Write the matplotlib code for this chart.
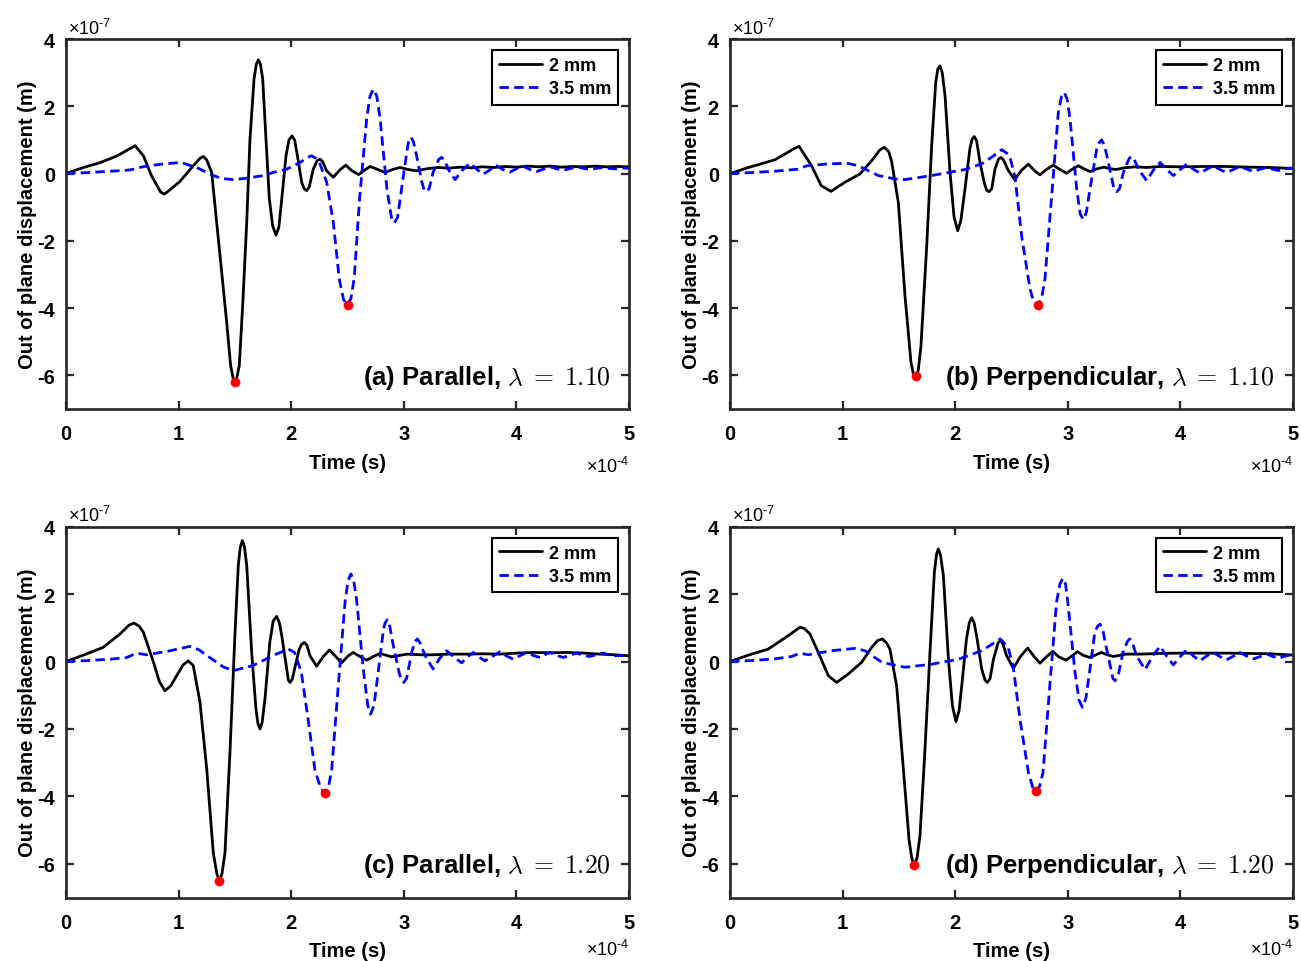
import numpy as np
import matplotlib
matplotlib.use("Agg")
import matplotlib.pyplot as plt
from matplotlib.ticker import FixedFormatter, FixedLocator

# Units: time in 1e-4 s, displacement in 1e-7 m
T_SCALE = 1e-4
U_SCALE = 1e-7

# ---------------- Panel (a): (time, displacement) pairs ----------------
a_2mm = [(0, 0), (0.154, 0.18), (0.30, 0.32), (0.45, 0.52), (0.58, 0.76), (0.613, 0.83), (0.687, 0.53),
         (0.76, -0.07), (0.84, -0.55), (0.873, -0.61), (0.91, -0.52), (1.01, -0.24), (1.13, 0.23),
         (1.19, 0.45), (1.22, 0.51), (1.25, 0.40), (1.294, 0.03), (1.338, -1.45), (1.383, -2.94),
         (1.427, -4.42), (1.462, -5.71), (1.485, -6.1), (1.50, -6.21), (1.515, -6.1), (1.539, -5.71),
         (1.569, -3.93), (1.605, -1.45), (1.634, 1.03), (1.67, 2.81), (1.69, 3.25), (1.708, 3.38),
         (1.727, 3.25), (1.747, 2.81), (1.776, 1.03), (1.806, -0.76), (1.835, -1.55), (1.865, -1.83),
         (1.89, -1.6), (1.91, -0.96), (1.954, 0.53), (1.98, 1.0), (2.007, 1.12), (2.03, 1.0),
         (2.055, 0.53), (2.093, -0.26), (2.115, -0.45), (2.137, -0.51), (2.16, -0.4), (2.196, 0.13),
         (2.23, 0.38), (2.256, 0.43), (2.28, 0.35), (2.315, 0.08), (2.374, -0.11), (2.43, 0.10),
         (2.484, 0.25), (2.54, 0.08), (2.60, -0.03), (2.65, 0.10), (2.70, 0.21), (2.77, 0.12),
         (2.833, 0.03), (2.90, 0.12), (2.966, 0.18), (3.04, 0.12), (3.11, 0.08), (3.2, 0.14), (3.3, 0.18),
         (3.4, 0.16), (3.5, 0.19), (3.6, 0.17), (3.7, 0.20), (3.8, 0.18), (3.9, 0.21), (4.0, 0.19),
         (4.1, 0.22), (4.2, 0.20), (4.3, 0.22), (4.4, 0.19), (4.5, 0.21), (4.6, 0.20), (4.7, 0.22),
         (4.8, 0.20), (4.9, 0.21), (5.0, 0.20)]
a_35mm = [(0, 0), (0.2, 0.03), (0.4, 0.07), (0.55, 0.10), (0.6, 0.13), (0.68, 0.20), (0.85, 0.28),
          (1.02, 0.33), (1.16, 0.18), (1.22, 0.08), (1.308, -0.06), (1.39, -0.15), (1.486, -0.18),
          (1.60, -0.14), (1.752, -0.06), (1.85, 0.04), (1.96, 0.13), (2.08, 0.33), (2.14, 0.47),
          (2.18, 0.53), (2.22, 0.45), (2.256, 0.28), (2.315, -0.26), (2.374, -1.45), (2.427, -3.14),
          (2.465, -3.75), (2.498, -3.9), (2.53, -3.72), (2.56, -3.1), (2.607, -0.76), (2.67, 1.62),
          (2.70, 2.3), (2.73, 2.51), (2.76, 2.3), (2.79, 1.62), (2.85, -0.46), (2.89, -1.3), (2.916, -1.47),
          (2.945, -1.3), (2.98, -0.46), (3.026, 0.63), (3.045, 1.0), (3.064, 1.08), (3.085, 0.95),
          (3.114, 0.53), (3.16, -0.25), (3.18, -0.48), (3.20, -0.54), (3.225, -0.45), (3.26, 0.03),
          (3.31, 0.42), (3.336, 0.48), (3.36, 0.40), (3.40, 0.10), (3.455, -0.18), (3.52, 0.10),
          (3.588, 0.31), (3.65, 0.12), (3.706, -0.02), (3.77, 0.12), (3.825, 0.23), (3.88, 0.12),
          (3.94, 0.04), (4.0, 0.14), (4.05, 0.23), (4.12, 0.12), (4.18, 0.06), (4.24, 0.13), (4.3, 0.20),
          (4.36, 0.14), (4.42, 0.10), (4.48, 0.15), (4.54, 0.20), (4.6, 0.15), (4.66, 0.12), (4.72, 0.16),
          (4.77, 0.18), (4.83, 0.15), (4.89, 0.14), (4.95, 0.16), (5.0, 0.16)]
a_minima = [(1.50, -6.2), (2.50, -3.9)]

# ---------------- Panel (b) ----------------
b_2mm = [(0, 0), (0.163, 0.18), (0.40, 0.41), (0.58, 0.76), (0.613, 0.81), (0.725, 0.23), (0.81, -0.36),
         (0.897, -0.53), (1.02, -0.26), (1.155, -0.01), (1.258, 0.38), (1.33, 0.70), (1.37, 0.78),
         (1.41, 0.65), (1.436, 0.35), (1.495, -0.86), (1.554, -3.63), (1.607, -5.61), (1.628, -5.95),
         (1.649, -6.04), (1.672, -5.85), (1.696, -5.12), (1.747, -2.15), (1.791, 0.83), (1.827, 2.71),
         (1.845, 3.1), (1.865, 3.2), (1.885, 3.0), (1.91, 2.31), (1.954, 0.03), (1.99, -1.3),
         (2.022, -1.70), (2.05, -1.4), (2.087, -0.46), (2.13, 0.73), (2.15, 1.02), (2.17, 1.1),
         (2.19, 0.98), (2.22, 0.33), (2.26, -0.3), (2.28, -0.5), (2.30, -0.54), (2.325, -0.45),
         (2.353, 0.13), (2.385, 0.43), (2.407, 0.48), (2.43, 0.40), (2.47, 0.10), (2.528, -0.18),
         (2.59, 0.10), (2.65, 0.28), (2.70, 0.10), (2.753, -0.04), (2.81, 0.12), (2.87, 0.25),
         (2.93, 0.12), (2.99, 0.01), (3.04, 0.13), (3.094, 0.23), (3.15, 0.13), (3.197, 0.06),
         (3.26, 0.14), (3.32, 0.19), (3.38, 0.14), (3.43, 0.12), (3.5, 0.17), (3.6, 0.20), (3.7, 0.18),
         (3.82, 0.21), (4.0, 0.20), (4.2, 0.21), (4.41, 0.21), (4.6, 0.19), (4.8, 0.18), (5.0, 0.15)]
b_35mm = [(0, 0), (0.2, 0.03), (0.4, 0.07), (0.607, 0.13), (0.68, 0.23), (0.85, 0.28), (1.036, 0.31),
          (1.14, 0.23), (1.317, -0.06), (1.466, -0.16), (1.554, -0.18), (1.79, -0.06), (2.087, 0.12),
          (2.235, 0.29), (2.33, 0.50), (2.413, 0.71), (2.46, 0.60), (2.487, 0.48), (2.531, -0.10),
          (2.59, -1.85), (2.625, -2.6), (2.664, -3.43), (2.70, -3.85), (2.732, -3.92), (2.765, -3.75),
          (2.797, -3.14), (2.857, -0.66), (2.916, 1.82), (2.945, 2.3), (2.969, 2.41), (2.995, 2.2),
          (3.02, 1.62), (3.079, -0.46), (3.11, -1.2), (3.138, -1.37), (3.165, -1.15), (3.197, -0.46),
          (3.257, 0.73), (3.28, 0.92), (3.30, 1.0), (3.325, 0.85), (3.36, 0.33), (3.41, -0.45),
          (3.434, -0.54), (3.46, -0.45), (3.493, 0.03), (3.545, 0.45), (3.567, 0.51), (3.59, 0.42),
          (3.627, 0.13), (3.70, -0.21), (3.76, 0.10), (3.82, 0.33), (3.88, 0.12), (3.937, -0.06),
          (4.0, 0.12), (4.056, 0.28), (4.12, 0.12), (4.174, 0.01), (4.23, 0.12), (4.29, 0.23),
          (4.35, 0.12), (4.41, 0.03), (4.47, 0.12), (4.53, 0.21), (4.59, 0.13), (4.65, 0.06),
          (4.71, 0.13), (4.766, 0.18), (4.82, 0.13), (4.87, 0.09), (4.92, 0.13), (4.97, 0.16), (5.0, 0.16)]
b_minima = [(1.65, -6.03), (2.733, -3.92)]

# ---------------- Panel (c) ----------------
c_2mm = [(0, 0), (0.154, 0.19), (0.33, 0.42), (0.48, 0.82), (0.56, 1.08), (0.604, 1.14), (0.65, 1.05),
         (0.687, 0.87), (0.775, 0.0), (0.83, -0.6), (0.879, -0.87), (0.93, -0.72), (0.983, -0.42),
         (1.04, -0.10), (1.086, 0.02), (1.13, -0.12), (1.19, -1.21), (1.25, -3.2), (1.308, -5.67),
         (1.34, -6.3), (1.362, -6.5), (1.385, -6.3), (1.412, -5.67), (1.456, -2.7), (1.50, 0.77),
         (1.53, 2.85), (1.548, 3.4), (1.566, 3.59), (1.585, 3.4), (1.605, 2.85), (1.649, 0.27),
         (1.687, -1.41), (1.705, -1.85), (1.723, -2.0), (1.742, -1.8), (1.767, -1.11), (1.81, 0.57),
         (1.84, 1.2), (1.87, 1.34), (1.895, 1.15), (1.916, 0.77), (1.96, -0.22), (1.975, -0.55),
         (1.99, -0.62), (2.01, -0.52), (2.03, -0.22), (2.07, 0.35), (2.09, 0.5), (2.117, 0.57),
         (2.14, 0.48), (2.167, 0.17), (2.226, -0.14), (2.285, 0.15), (2.34, 0.34), (2.395, 0.15),
         (2.448, -0.04), (2.50, 0.15), (2.55, 0.27), (2.61, 0.15), (2.67, 0.04), (2.73, 0.15),
         (2.79, 0.24), (2.89, 0.14), (3.03, 0.22), (3.15, 0.20), (3.26, 0.20), (3.4, 0.22), (3.56, 0.22),
         (3.7, 0.23), (3.85, 0.22), (4.0, 0.25), (4.15, 0.27), (4.3, 0.26), (4.45, 0.27), (4.6, 0.25),
         (4.74, 0.22), (4.87, 0.20), (5.0, 0.17)]
c_35mm = [(0, 0), (0.2, 0.03), (0.4, 0.07), (0.54, 0.12), (0.628, 0.25), (0.717, 0.20), (0.924, 0.32),
          (1.10, 0.45), (1.18, 0.35), (1.25, 0.18), (1.397, -0.16), (1.486, -0.27), (1.66, -0.12),
          (1.84, 0.18), (1.975, 0.37), (2.03, 0.27), (2.09, -0.32), (2.15, -1.71), (2.21, -3.2),
          (2.26, -3.75), (2.30, -3.91), (2.33, -3.75), (2.36, -3.2), (2.418, -0.72), (2.478, 1.76),
          (2.505, 2.4), (2.53, 2.6), (2.555, 2.4), (2.58, 1.86), (2.64, -0.22), (2.68, -1.3),
          (2.706, -1.56), (2.735, -1.3), (2.765, -0.52), (2.82, 0.97), (2.835, 1.15), (2.853, 1.24),
          (2.875, 1.05), (2.907, 0.47), (2.96, -0.35), (2.98, -0.55), (3.0, -0.62), (3.025, -0.5),
          (3.07, 0.27), (3.10, 0.6), (3.12, 0.67), (3.145, 0.55), (3.19, 0.17), (3.26, -0.22),
          (3.32, 0.10), (3.38, 0.32), (3.45, 0.12), (3.514, -0.04), (3.56, 0.12), (3.617, 0.27),
          (3.67, 0.13), (3.72, 0.02), (3.79, 0.16), (3.854, 0.29), (3.91, 0.17), (3.97, 0.07),
          (4.03, 0.17), (4.09, 0.27), (4.15, 0.18), (4.21, 0.12), (4.25, 0.20), (4.30, 0.27),
          (4.36, 0.18), (4.417, 0.12), (4.475, 0.19), (4.535, 0.25), (4.59, 0.19), (4.65, 0.15),
          (4.71, 0.20), (4.77, 0.25), (4.82, 0.20), (4.876, 0.17), (4.94, 0.18), (5.0, 0.17)]
c_minima = [(1.36, -6.5), (2.30, -3.91)]

# ---------------- Panel (d) ----------------
d_2mm = [(0, 0), (0.163, 0.19), (0.34, 0.37), (0.518, 0.77), (0.622, 1.02), (0.66, 0.98), (0.71, 0.82),
         (0.784, 0.27), (0.873, -0.42), (0.947, -0.62), (1.05, -0.37), (1.17, -0.02), (1.258, 0.42),
         (1.31, 0.62), (1.353, 0.67), (1.39, 0.55), (1.42, 0.37), (1.48, -0.72), (1.54, -3.2),
         (1.59, -5.28), (1.615, -5.85), (1.637, -6.03), (1.66, -5.85), (1.687, -5.18), (1.73, -2.7),
         (1.776, 0.27), (1.815, 2.65), (1.835, 3.2), (1.85, 3.34), (1.87, 3.15), (1.895, 2.55),
         (1.94, 0.07), (1.975, -1.31), (2.007, -1.78), (2.035, -1.45), (2.058, -0.72), (2.10, 0.67),
         (2.125, 1.15), (2.146, 1.3), (2.168, 1.15), (2.19, 0.77), (2.235, -0.22), (2.265, -0.55),
         (2.285, -0.62), (2.31, -0.5), (2.34, 0.07), (2.38, 0.55), (2.40, 0.62), (2.42, 0.55),
         (2.457, 0.17), (2.516, -0.20), (2.58, 0.15), (2.644, 0.40), (2.70, 0.15), (2.753, -0.05),
         (2.81, 0.14), (2.866, 0.30), (2.92, 0.14), (2.984, 0.04), (3.03, 0.15), (3.085, 0.29),
         (3.14, 0.18), (3.197, 0.12), (3.25, 0.20), (3.30, 0.27), (3.35, 0.20), (3.404, 0.15),
         (3.52, 0.22), (3.65, 0.22), (3.82, 0.24), (4.0, 0.25), (4.2, 0.25), (4.41, 0.25), (4.6, 0.24),
         (4.8, 0.23), (5.0, 0.19)]
d_35mm = [(0, 0), (0.2, 0.03), (0.4, 0.08), (0.548, 0.15), (0.622, 0.25), (0.695, 0.20), (0.90, 0.32),
          (1.11, 0.39), (1.199, 0.32), (1.347, -0.02), (1.554, -0.17), (1.79, -0.08), (2.03, 0.07),
          (2.235, 0.32), (2.33, 0.52), (2.40, 0.67), (2.45, 0.50), (2.47, 0.42), (2.516, -0.17),
          (2.575, -1.71), (2.65, -3.29), (2.69, -3.75), (2.718, -3.87), (2.75, -3.7), (2.78, -3.29),
          (2.84, -0.72), (2.90, 1.76), (2.93, 2.3), (2.955, 2.47), (2.98, 2.3), (3.0, 1.76),
          (3.064, -0.32), (3.10, -1.15), (3.13, -1.36), (3.16, -1.1), (3.197, -0.22), (3.24, 0.87),
          (3.265, 1.05), (3.286, 1.11), (3.31, 0.95), (3.345, 0.37), (3.40, -0.5), (3.42, -0.57),
          (3.445, -0.45), (3.49, 0.27), (3.53, 0.6), (3.55, 0.67), (3.575, 0.55), (3.61, 0.17),
          (3.686, -0.24), (3.76, 0.20), (3.82, 0.45), (3.88, 0.15), (3.937, -0.10), (4.0, 0.15),
          (4.056, 0.35), (4.12, 0.15), (4.174, 0.02), (4.23, 0.16), (4.29, 0.27), (4.35, 0.15),
          (4.41, 0.05), (4.47, 0.16), (4.53, 0.27), (4.59, 0.16), (4.65, 0.08), (4.71, 0.15),
          (4.77, 0.22), (4.82, 0.15), (4.87, 0.10), (4.93, 0.16), (5.0, 0.22)]
d_minima = [(1.637, -6.03), (2.718, -3.85)]

series_labels = ["2 mm", "3.5 mm"]
panel_titles = ["(a) Parallel, $\\lambda\\;=\\;1.10$", "(b) Perpendicular, $\\lambda\\;=\\;1.10$",
                "(c) Parallel, $\\lambda\\;=\\;1.20$", "(d) Perpendicular, $\\lambda\\;=\\;1.20$"]
x_ticks = [0, 1, 2, 3, 4, 5]
y_ticks = [-6, -4, -2, 0, 2, 4]
x_ticklabels = ["0", "1", "2", "3", "4", "5"]
y_ticklabels = ["-6", "-4", "-2", "0", "2", "4"]
x_label = "Time (s)"
y_label = "Out of plane displacement (m)"
x_multiplier = r"$\times10^{\text{-4}}$"
y_multiplier = r"$\times10^{\text{-7}}$"

panels = [(a_2mm, a_35mm, a_minima), (b_2mm, b_35mm, b_minima),
          (c_2mm, c_35mm, c_minima), (d_2mm, d_35mm, d_minima)]

plt.rcParams['font.family'] = ['Liberation Sans', 'DejaVu Sans']
plt.rcParams['axes.unicode_minus'] = False
plt.rcParams['mathtext.fontset'] = 'custom'
plt.rcParams['mathtext.rm'] = 'Liberation Sans'
plt.rcParams['mathtext.it'] = 'Liberation Sans:italic'
plt.rcParams['mathtext.bf'] = 'Liberation Sans:bold'

W, H = 1301, 962
fig = plt.figure(figsize=(W / 100, H / 100), dpi=100)

boxes = [(66, 40, 629, 410), (730, 40, 1293, 410),
         (66, 527.7, 629, 898.5), (730, 527.7, 1293, 898.5)]
mult_y = [-0.153, -0.153, -0.138, -0.138]
axc = '#262626'


def split(pairs, scale_t, scale_u):
    arr = np.array(pairs, dtype=float)
    return arr[:, 0] * scale_t, arr[:, 1] * scale_u


for (x0, y0, x1, y1), (s1, s2, mins), title, my in zip(boxes, panels, panel_titles, mult_y):
    ax = fig.add_axes([x0 / W, 1 - y1 / H, (x1 - x0) / W, (y1 - y0) / H])
    t1, u1 = split(s1, T_SCALE, U_SCALE)
    t2, u2 = split(s2, T_SCALE, U_SCALE)
    tm, um = split(mins, T_SCALE, U_SCALE)
    ax.plot(t1, u1, color='black', lw=2.0, solid_joinstyle='round', solid_capstyle='round',
            label=series_labels[0])
    ax.plot(t2, u2, color='#0000ff', lw=2.0, linestyle=(0, (3.4, 1.9)), dash_joinstyle='round',
            label=series_labels[1])
    ax.plot(tm, um, 'o', color='red', ms=6, mec='red', zorder=5)
    ax.set_xlim(0, 5 * T_SCALE)
    ax.set_ylim(-7 * U_SCALE, 4 * U_SCALE)
    ax.xaxis.set_major_locator(FixedLocator([v * T_SCALE for v in x_ticks]))
    ax.yaxis.set_major_locator(FixedLocator([v * U_SCALE for v in y_ticks]))
    ax.xaxis.set_major_formatter(FixedFormatter(x_ticklabels))
    ax.yaxis.set_major_formatter(FixedFormatter(y_ticklabels))
    ax.tick_params(direction='in', length=6, width=1.6, top=True, right=True,
                   colors=axc, labelcolor='black', labelsize=14.5)
    ax.tick_params(axis='x', pad=11)
    ax.tick_params(axis='y', pad=8)
    for lab in ax.get_xticklabels() + ax.get_yticklabels():
        lab.set_fontweight('bold')
    for sp in ax.spines.values():
        sp.set_linewidth(1.9)
        sp.set_color(axc)
    ax.set_xlabel(x_label, fontsize=14.5, fontweight='bold', labelpad=7)
    ax.set_ylabel(y_label, fontsize=14.5, fontweight='bold', labelpad=0)
    ax.text(0.003, 1.004, y_multiplier, transform=ax.transAxes, ha='left', va='bottom',
            fontsize=13, color='black')
    ax.text(1.0, my, x_multiplier, transform=ax.transAxes, ha='right', va='center',
            fontsize=13, color='black')
    leg = ax.legend(loc='upper right', prop={'weight': 'bold', 'size': 13},
                    frameon=True, fancybox=False, framealpha=1, edgecolor='black',
                    handlelength=2.4, handletextpad=0.35, borderpad=0.4, labelspacing=0.35,
                    borderaxespad=0.6)
    leg.get_frame().set_linewidth(1.5)
    ax.text(0.967, 0.087, title, transform=ax.transAxes, ha='right', va='center',
            fontsize=18.5, fontweight='bold', math_fontfamily='cm')

fig.savefig('out.png', dpi=100)
